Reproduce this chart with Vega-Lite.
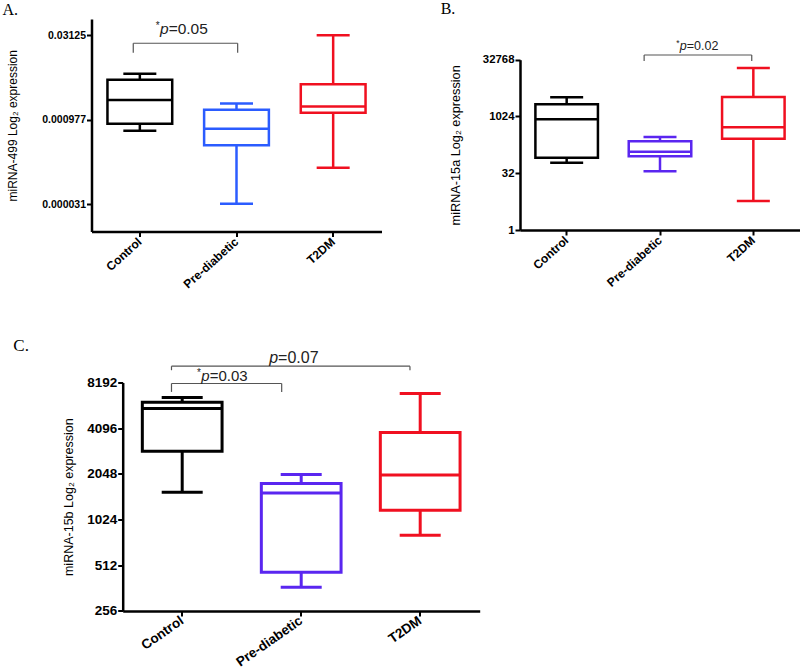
{
  "$schema": "https://vega.github.io/schema/vega-lite/v6.json",
  "background": "white",
  "padding": {"left": 2.5, "top": 0, "right": 0, "bottom": 0},
  "config": {
    "view": {"stroke": null},
    "font": "Liberation Sans",
    "axis": {"domainColor": "black", "domainWidth": 2.5, "tickColor": "black", "tickWidth": 2, "tickSize": 5, "grid": false, "labelColor": "black", "labelFont": "Liberation Sans", "labelFontWeight": "bold", "titleFont": "Liberation Sans", "titleFontWeight": "normal", "titleColor": "black", "labelPadding": 1},
    "title": {"font": "Liberation Serif", "fontWeight": "normal", "color": "black", "anchor": "start", "frame": "group"},
    "tick": {"opacity": 1},
    "bar": {"opacity": 1}
  },
  "datasets": {
    "boxes": [
      {"panel": "A", "group": "Control", "min": 0.0006227, "q1": 0.000829, "median": 0.002193, "q3": 0.005048, "max": 0.00646},
      {"panel": "A", "group": "Pre-diabetic", "min": 0.00003153, "q1": 0.0003431, "median": 0.0006758, "q3": 0.0014719, "max": 0.0019156},
      {"panel": "A", "group": "T2DM", "min": 0.00013733, "q1": 0.0013068, "median": 0.0016936, "q3": 0.004177, "max": 0.03125},
      {"panel": "B", "group": "Control", "min": 60.9, "q1": 82.6, "median": 861.7, "q3": 2152, "max": 3300},
      {"panel": "B", "group": "Pre-diabetic", "min": 36.0, "q1": 90.0, "median": 119.2, "q3": 224.9, "max": 292.4},
      {"panel": "B", "group": "T2DM", "min": 5.87, "q1": 263.6, "median": 528.6, "q3": 3361, "max": 19743},
      {"panel": "C", "group": "Control", "min": 1551, "q1": 2888, "median": 5523, "q3": 6077, "max": 6527},
      {"panel": "C", "group": "Pre-diabetic", "min": 366.8, "q1": 460.5, "median": 1534, "q3": 1769, "max": 2028},
      {"panel": "C", "group": "T2DM", "min": 807.3, "q1": 1180, "median": 2016, "q3": 3835, "max": 6932}
    ],
    "notes": [
      {"panel": "A", "id": "A1", "from": "Control", "to": "Pre-diabetic", "y": 0.02251, "yEnd": 0.015325, "at": "Control", "ty": 0.03258, "rest": "=0.05", "p": "p", "star": "*"},
      {"panel": "B", "id": "B1", "from": "Pre-diabetic", "to": "T2DM", "y": 43660, "yEnd": 30258, "at": "Pre-diabetic", "ty": 58170, "rest": "=0.02", "p": "p", "star": "*"},
      {"panel": "C", "id": "C1", "from": "Control", "to": "Pre-diabetic", "y": 8068, "yEnd": 7103, "at": "Control", "ty": 8393, "rest": "=0.03", "p": "p", "star": "*"},
      {"panel": "C", "id": "C2", "from": "Control", "to": "T2DM", "y": 10492, "yEnd": 9869, "at": "Pre-diabetic", "ty": 11030, "rest": "=0.07", "p": "p", "star": ""}
    ]
  },
  "columns": 1,
  "align": "none",
  "spacing": 46.5,
  "concat": [
    {
      "columns": 2,
      "align": "none",
      "spacing": 58.5,
      "concat": [
        {
          "title": {"text": "A.", "fontSize": 16, "dx": -89, "offset": 1},
          "width": 290, "height": 212.5,
          "layer": [
            {"data": {"name": "boxes"}, "transform": [{"filter": "datum.panel==='A'"}],
             "mark": {"type": "rule", "strokeWidth": 2.5},
             "encoding": {
               "x": {"field": "group", "type": "nominal", "scale": {"domain": ["Control", "Pre-diabetic", "T2DM"], "paddingInner": 0, "paddingOuter": 0}, "axis": {"title": null, "labelAngle": -42, "labelAlign": "right", "labelBaseline": "middle", "labelFontSize": 12, "labelPadding": 3}},
               "y": {"field": "min", "type": "quantitative", "scale": {"type": "log", "base": 2, "domain": [0.000010068, 0.06079], "nice": false}, "axis": {"values": [0.000030517578125, 0.0009765625, 0.03125], "labelExpr": "datum.value < 0.0001 ? '0.000031' : datum.value < 0.01 ? '0.000977' : '0.03125'", "labelFontSize": 10.5, "title": "miRNA-499 Log₂ expression", "titleFontSize": 12, "titlePadding": 22}},
               "y2": {"field": "max"},
               "color": {"condition": [{"test": "datum.group==='Control'", "value": "#000000"}, {"test": "datum.group==='T2DM'", "value": "#f01020"}], "value": "#2b5cff"}
             }},
            {"data": {"name": "boxes"}, "transform": [{"filter": "datum.panel==='A'"}],
             "mark": {"type": "bar", "fill": "white", "strokeWidth": 2.5, "width": {"band": 0.67}},
             "encoding": {
               "x": {"field": "group", "type": "nominal", "scale": {"domain": ["Control", "Pre-diabetic", "T2DM"], "paddingInner": 0, "paddingOuter": 0}, "axis": {"title": null, "labelAngle": -42, "labelAlign": "right", "labelBaseline": "middle", "labelFontSize": 12, "labelPadding": 3}},
               "y": {"field": "q1", "type": "quantitative", "scale": {"type": "log", "base": 2, "domain": [0.000010068, 0.06079], "nice": false}, "axis": {"values": [0.000030517578125, 0.0009765625, 0.03125], "labelExpr": "datum.value < 0.0001 ? '0.000031' : datum.value < 0.01 ? '0.000977' : '0.03125'", "labelFontSize": 10.5, "title": "miRNA-499 Log₂ expression", "titleFontSize": 12, "titlePadding": 22}},
               "y2": {"field": "q3"},
               "stroke": {"condition": [{"test": "datum.group==='Control'", "value": "#000000"}, {"test": "datum.group==='T2DM'", "value": "#f01020"}], "value": "#2b5cff"}
             }},
            {"data": {"name": "boxes"}, "transform": [{"filter": "datum.panel==='A'"}],
             "mark": {"type": "tick", "thickness": 2.5, "size": 65, "opacity": 1},
             "encoding": {
               "x": {"field": "group", "type": "nominal", "scale": {"domain": ["Control", "Pre-diabetic", "T2DM"], "paddingInner": 0, "paddingOuter": 0}, "axis": {"title": null, "labelAngle": -42, "labelAlign": "right", "labelBaseline": "middle", "labelFontSize": 12, "labelPadding": 3}},
               "y": {"field": "median", "type": "quantitative", "scale": {"type": "log", "base": 2, "domain": [0.000010068, 0.06079], "nice": false}, "axis": {"values": [0.000030517578125, 0.0009765625, 0.03125], "labelExpr": "datum.value < 0.0001 ? '0.000031' : datum.value < 0.01 ? '0.000977' : '0.03125'", "labelFontSize": 10.5, "title": "miRNA-499 Log₂ expression", "titleFontSize": 12, "titlePadding": 22}},
               "color": {"condition": [{"test": "datum.group==='Control'", "value": "#000000"}, {"test": "datum.group==='T2DM'", "value": "#f01020"}], "value": "#2b5cff"}
             }},
            {"data": {"name": "boxes"}, "transform": [{"filter": "datum.panel==='A'"}],
             "mark": {"type": "tick", "thickness": 2.5, "size": 33, "opacity": 1},
             "encoding": {
               "x": {"field": "group", "type": "nominal", "scale": {"domain": ["Control", "Pre-diabetic", "T2DM"], "paddingInner": 0, "paddingOuter": 0}, "axis": {"title": null, "labelAngle": -42, "labelAlign": "right", "labelBaseline": "middle", "labelFontSize": 12, "labelPadding": 3}},
               "y": {"field": "min", "type": "quantitative", "scale": {"type": "log", "base": 2, "domain": [0.000010068, 0.06079], "nice": false}, "axis": {"values": [0.000030517578125, 0.0009765625, 0.03125], "labelExpr": "datum.value < 0.0001 ? '0.000031' : datum.value < 0.01 ? '0.000977' : '0.03125'", "labelFontSize": 10.5, "title": "miRNA-499 Log₂ expression", "titleFontSize": 12, "titlePadding": 22}},
               "color": {"condition": [{"test": "datum.group==='Control'", "value": "#000000"}, {"test": "datum.group==='T2DM'", "value": "#f01020"}], "value": "#2b5cff"}
             }},
            {"data": {"name": "boxes"}, "transform": [{"filter": "datum.panel==='A'"}],
             "mark": {"type": "tick", "thickness": 2.5, "size": 33, "opacity": 1},
             "encoding": {
               "x": {"field": "group", "type": "nominal", "scale": {"domain": ["Control", "Pre-diabetic", "T2DM"], "paddingInner": 0, "paddingOuter": 0}, "axis": {"title": null, "labelAngle": -42, "labelAlign": "right", "labelBaseline": "middle", "labelFontSize": 12, "labelPadding": 3}},
               "y": {"field": "max", "type": "quantitative", "scale": {"type": "log", "base": 2, "domain": [0.000010068, 0.06079], "nice": false}, "axis": {"values": [0.000030517578125, 0.0009765625, 0.03125], "labelExpr": "datum.value < 0.0001 ? '0.000031' : datum.value < 0.01 ? '0.000977' : '0.03125'", "labelFontSize": 10.5, "title": "miRNA-499 Log₂ expression", "titleFontSize": 12, "titlePadding": 22}},
               "color": {"condition": [{"test": "datum.group==='Control'", "value": "#000000"}, {"test": "datum.group==='T2DM'", "value": "#f01020"}], "value": "#2b5cff"}
             }},
            {"data": {"name": "notes"}, "transform": [{"filter": "datum.id==='A1'"}],
             "mark": {"type": "rule", "color": "#555555", "strokeWidth": 1.2},
             "encoding": {
               "x": {"field": "from", "type": "nominal", "bandPosition": 0.432, "scale": {"domain": ["Control", "Pre-diabetic", "T2DM"], "paddingInner": 0, "paddingOuter": 0}, "axis": {"title": null, "labelAngle": -42, "labelAlign": "right", "labelBaseline": "middle", "labelFontSize": 12, "labelPadding": 3}},
               "x2": {"field": "to", "bandPosition": 0.512},
               "y": {"field": "y", "type": "quantitative", "scale": {"type": "log", "base": 2, "domain": [0.000010068, 0.06079], "nice": false}, "axis": {"values": [0.000030517578125, 0.0009765625, 0.03125], "labelExpr": "datum.value < 0.0001 ? '0.000031' : datum.value < 0.01 ? '0.000977' : '0.03125'", "labelFontSize": 10.5, "title": "miRNA-499 Log₂ expression", "titleFontSize": 12, "titlePadding": 22}}
             }},
            {"data": {"name": "notes"}, "transform": [{"filter": "datum.id==='A1'"}],
             "mark": {"type": "rule", "color": "#555555", "strokeWidth": 1.2},
             "encoding": {
               "x": {"field": "from", "type": "nominal", "bandPosition": 0.432, "scale": {"domain": ["Control", "Pre-diabetic", "T2DM"], "paddingInner": 0, "paddingOuter": 0}, "axis": {"title": null, "labelAngle": -42, "labelAlign": "right", "labelBaseline": "middle", "labelFontSize": 12, "labelPadding": 3}},
               "y": {"field": "y", "type": "quantitative", "scale": {"type": "log", "base": 2, "domain": [0.000010068, 0.06079], "nice": false}, "axis": {"values": [0.000030517578125, 0.0009765625, 0.03125], "labelExpr": "datum.value < 0.0001 ? '0.000031' : datum.value < 0.01 ? '0.000977' : '0.03125'", "labelFontSize": 10.5, "title": "miRNA-499 Log₂ expression", "titleFontSize": 12, "titlePadding": 22}},
               "y2": {"field": "yEnd"}
             }},
            {"data": {"name": "notes"}, "transform": [{"filter": "datum.id==='A1'"}],
             "mark": {"type": "rule", "color": "#555555", "strokeWidth": 1.2},
             "encoding": {
               "x": {"field": "to", "type": "nominal", "bandPosition": 0.512, "scale": {"domain": ["Control", "Pre-diabetic", "T2DM"], "paddingInner": 0, "paddingOuter": 0}, "axis": {"title": null, "labelAngle": -42, "labelAlign": "right", "labelBaseline": "middle", "labelFontSize": 12, "labelPadding": 3}},
               "y": {"field": "y", "type": "quantitative", "scale": {"type": "log", "base": 2, "domain": [0.000010068, 0.06079], "nice": false}, "axis": {"values": [0.000030517578125, 0.0009765625, 0.03125], "labelExpr": "datum.value < 0.0001 ? '0.000031' : datum.value < 0.01 ? '0.000977' : '0.03125'", "labelFontSize": 10.5, "title": "miRNA-499 Log₂ expression", "titleFontSize": 12, "titlePadding": 22}},
               "y2": {"field": "yEnd"}
             }},
            {"data": {"name": "notes"}, "transform": [{"filter": "datum.id==='A1'"}],
             "mark": {"type": "text", "align": "left", "baseline": "alphabetic", "fontSize": 15.5, "dx": 28.8, "color": "#222222"},
             "encoding": {
               "x": {"field": "at", "type": "nominal", "bandPosition": 0.5, "scale": {"domain": ["Control", "Pre-diabetic", "T2DM"], "paddingInner": 0, "paddingOuter": 0}, "axis": {"title": null, "labelAngle": -42, "labelAlign": "right", "labelBaseline": "middle", "labelFontSize": 12, "labelPadding": 3}},
               "y": {"field": "ty", "type": "quantitative", "scale": {"type": "log", "base": 2, "domain": [0.000010068, 0.06079], "nice": false}, "axis": {"values": [0.000030517578125, 0.0009765625, 0.03125], "labelExpr": "datum.value < 0.0001 ? '0.000031' : datum.value < 0.01 ? '0.000977' : '0.03125'", "labelFontSize": 10.5, "title": "miRNA-499 Log₂ expression", "titleFontSize": 12, "titlePadding": 22}},
               "text": {"field": "rest"}
             }},
            {"data": {"name": "notes"}, "transform": [{"filter": "datum.id==='A1'"}],
             "mark": {"type": "text", "align": "right", "baseline": "alphabetic", "fontSize": 15.5, "fontStyle": "italic", "dx": 28.8, "color": "#222222"},
             "encoding": {
               "x": {"field": "at", "type": "nominal", "bandPosition": 0.5, "scale": {"domain": ["Control", "Pre-diabetic", "T2DM"], "paddingInner": 0, "paddingOuter": 0}, "axis": {"title": null, "labelAngle": -42, "labelAlign": "right", "labelBaseline": "middle", "labelFontSize": 12, "labelPadding": 3}},
               "y": {"field": "ty", "type": "quantitative", "scale": {"type": "log", "base": 2, "domain": [0.000010068, 0.06079], "nice": false}, "axis": {"values": [0.000030517578125, 0.0009765625, 0.03125], "labelExpr": "datum.value < 0.0001 ? '0.000031' : datum.value < 0.01 ? '0.000977' : '0.03125'", "labelFontSize": 10.5, "title": "miRNA-499 Log₂ expression", "titleFontSize": 12, "titlePadding": 22}},
               "text": {"field": "p"}
             }},
            {"data": {"name": "notes"}, "transform": [{"filter": "datum.id==='A1'"}],
             "mark": {"type": "text", "align": "right", "baseline": "alphabetic", "fontSize": 10, "dx": 19.8, "dy": -5, "color": "#222222"},
             "encoding": {
               "x": {"field": "at", "type": "nominal", "bandPosition": 0.5, "scale": {"domain": ["Control", "Pre-diabetic", "T2DM"], "paddingInner": 0, "paddingOuter": 0}, "axis": {"title": null, "labelAngle": -42, "labelAlign": "right", "labelBaseline": "middle", "labelFontSize": 12, "labelPadding": 3}},
               "y": {"field": "ty", "type": "quantitative", "scale": {"type": "log", "base": 2, "domain": [0.000010068, 0.06079], "nice": false}, "axis": {"values": [0.000030517578125, 0.0009765625, 0.03125], "labelExpr": "datum.value < 0.0001 ? '0.000031' : datum.value < 0.01 ? '0.000977' : '0.03125'", "labelFontSize": 10.5, "title": "miRNA-499 Log₂ expression", "titleFontSize": 12, "titlePadding": 22}},
               "text": {"field": "star"}
             }}
          ]
        },
        {
          "title": {"text": "B.", "fontSize": 16, "dx": -79.3, "offset": 2.5},
          "width": 280, "height": 211,
          "layer": [
            {"data": {"name": "boxes"}, "transform": [{"filter": "datum.panel==='B'"}],
             "mark": {"type": "rule", "strokeWidth": 2.5},
             "encoding": {
               "x": {"field": "group", "type": "nominal", "scale": {"domain": ["Control", "Pre-diabetic", "T2DM"], "paddingInner": 0, "paddingOuter": 0}, "axis": {"title": null, "labelAngle": -42, "labelAlign": "right", "labelBaseline": "middle", "labelFontSize": 12, "labelPadding": 3}},
               "y": {"field": "min", "type": "quantitative", "scale": {"type": "log", "base": 2, "domain": [1, 32768], "nice": false, "range": [211, 40.7]}, "axis": {"values": [1, 32, 1024, 32768], "format": "d", "labelFontSize": 11.4, "title": "miRNA-15a Log₂ expression", "titleFontSize": 12.7, "titlePadding": 20}},
               "y2": {"field": "max"},
               "color": {"condition": [{"test": "datum.group==='Control'", "value": "#000000"}, {"test": "datum.group==='T2DM'", "value": "#f01020"}], "value": "#5a26f0"}
             }},
            {"data": {"name": "boxes"}, "transform": [{"filter": "datum.panel==='B'"}],
             "mark": {"type": "bar", "fill": "white", "strokeWidth": 2.5, "width": {"band": 0.67}},
             "encoding": {
               "x": {"field": "group", "type": "nominal", "scale": {"domain": ["Control", "Pre-diabetic", "T2DM"], "paddingInner": 0, "paddingOuter": 0}, "axis": {"title": null, "labelAngle": -42, "labelAlign": "right", "labelBaseline": "middle", "labelFontSize": 12, "labelPadding": 3}},
               "y": {"field": "q1", "type": "quantitative", "scale": {"type": "log", "base": 2, "domain": [1, 32768], "nice": false, "range": [211, 40.7]}, "axis": {"values": [1, 32, 1024, 32768], "format": "d", "labelFontSize": 11.4, "title": "miRNA-15a Log₂ expression", "titleFontSize": 12.7, "titlePadding": 20}},
               "y2": {"field": "q3"},
               "stroke": {"condition": [{"test": "datum.group==='Control'", "value": "#000000"}, {"test": "datum.group==='T2DM'", "value": "#f01020"}], "value": "#5a26f0"}
             }},
            {"data": {"name": "boxes"}, "transform": [{"filter": "datum.panel==='B'"}],
             "mark": {"type": "tick", "thickness": 2.5, "size": 62.5, "opacity": 1},
             "encoding": {
               "x": {"field": "group", "type": "nominal", "scale": {"domain": ["Control", "Pre-diabetic", "T2DM"], "paddingInner": 0, "paddingOuter": 0}, "axis": {"title": null, "labelAngle": -42, "labelAlign": "right", "labelBaseline": "middle", "labelFontSize": 12, "labelPadding": 3}},
               "y": {"field": "median", "type": "quantitative", "scale": {"type": "log", "base": 2, "domain": [1, 32768], "nice": false, "range": [211, 40.7]}, "axis": {"values": [1, 32, 1024, 32768], "format": "d", "labelFontSize": 11.4, "title": "miRNA-15a Log₂ expression", "titleFontSize": 12.7, "titlePadding": 20}},
               "color": {"condition": [{"test": "datum.group==='Control'", "value": "#000000"}, {"test": "datum.group==='T2DM'", "value": "#f01020"}], "value": "#5a26f0"}
             }},
            {"data": {"name": "boxes"}, "transform": [{"filter": "datum.panel==='B'"}],
             "mark": {"type": "tick", "thickness": 2.5, "size": 33, "opacity": 1},
             "encoding": {
               "x": {"field": "group", "type": "nominal", "scale": {"domain": ["Control", "Pre-diabetic", "T2DM"], "paddingInner": 0, "paddingOuter": 0}, "axis": {"title": null, "labelAngle": -42, "labelAlign": "right", "labelBaseline": "middle", "labelFontSize": 12, "labelPadding": 3}},
               "y": {"field": "min", "type": "quantitative", "scale": {"type": "log", "base": 2, "domain": [1, 32768], "nice": false, "range": [211, 40.7]}, "axis": {"values": [1, 32, 1024, 32768], "format": "d", "labelFontSize": 11.4, "title": "miRNA-15a Log₂ expression", "titleFontSize": 12.7, "titlePadding": 20}},
               "color": {"condition": [{"test": "datum.group==='Control'", "value": "#000000"}, {"test": "datum.group==='T2DM'", "value": "#f01020"}], "value": "#5a26f0"}
             }},
            {"data": {"name": "boxes"}, "transform": [{"filter": "datum.panel==='B'"}],
             "mark": {"type": "tick", "thickness": 2.5, "size": 33, "opacity": 1},
             "encoding": {
               "x": {"field": "group", "type": "nominal", "scale": {"domain": ["Control", "Pre-diabetic", "T2DM"], "paddingInner": 0, "paddingOuter": 0}, "axis": {"title": null, "labelAngle": -42, "labelAlign": "right", "labelBaseline": "middle", "labelFontSize": 12, "labelPadding": 3}},
               "y": {"field": "max", "type": "quantitative", "scale": {"type": "log", "base": 2, "domain": [1, 32768], "nice": false, "range": [211, 40.7]}, "axis": {"values": [1, 32, 1024, 32768], "format": "d", "labelFontSize": 11.4, "title": "miRNA-15a Log₂ expression", "titleFontSize": 12.7, "titlePadding": 20}},
               "color": {"condition": [{"test": "datum.group==='Control'", "value": "#000000"}, {"test": "datum.group==='T2DM'", "value": "#f01020"}], "value": "#5a26f0"}
             }},
            {"data": {"name": "notes"}, "transform": [{"filter": "datum.id==='B1'"}],
             "mark": {"type": "rule", "color": "#555555", "strokeWidth": 1.2},
             "encoding": {
               "x": {"field": "from", "type": "nominal", "bandPosition": 0.33, "scale": {"domain": ["Control", "Pre-diabetic", "T2DM"], "paddingInner": 0, "paddingOuter": 0}, "axis": {"title": null, "labelAngle": -42, "labelAlign": "right", "labelBaseline": "middle", "labelFontSize": 12, "labelPadding": 3}},
               "x2": {"field": "to", "bandPosition": 0.483},
               "y": {"field": "y", "type": "quantitative", "scale": {"type": "log", "base": 2, "domain": [1, 32768], "nice": false, "range": [211, 40.7]}, "axis": {"values": [1, 32, 1024, 32768], "format": "d", "labelFontSize": 11.4, "title": "miRNA-15a Log₂ expression", "titleFontSize": 12.7, "titlePadding": 20}}
             }},
            {"data": {"name": "notes"}, "transform": [{"filter": "datum.id==='B1'"}],
             "mark": {"type": "rule", "color": "#555555", "strokeWidth": 1.2},
             "encoding": {
               "x": {"field": "from", "type": "nominal", "bandPosition": 0.33, "scale": {"domain": ["Control", "Pre-diabetic", "T2DM"], "paddingInner": 0, "paddingOuter": 0}, "axis": {"title": null, "labelAngle": -42, "labelAlign": "right", "labelBaseline": "middle", "labelFontSize": 12, "labelPadding": 3}},
               "y": {"field": "y", "type": "quantitative", "scale": {"type": "log", "base": 2, "domain": [1, 32768], "nice": false, "range": [211, 40.7]}, "axis": {"values": [1, 32, 1024, 32768], "format": "d", "labelFontSize": 11.4, "title": "miRNA-15a Log₂ expression", "titleFontSize": 12.7, "titlePadding": 20}},
               "y2": {"field": "yEnd"}
             }},
            {"data": {"name": "notes"}, "transform": [{"filter": "datum.id==='B1'"}],
             "mark": {"type": "rule", "color": "#555555", "strokeWidth": 1.2},
             "encoding": {
               "x": {"field": "to", "type": "nominal", "bandPosition": 0.483, "scale": {"domain": ["Control", "Pre-diabetic", "T2DM"], "paddingInner": 0, "paddingOuter": 0}, "axis": {"title": null, "labelAngle": -42, "labelAlign": "right", "labelBaseline": "middle", "labelFontSize": 12, "labelPadding": 3}},
               "y": {"field": "y", "type": "quantitative", "scale": {"type": "log", "base": 2, "domain": [1, 32768], "nice": false, "range": [211, 40.7]}, "axis": {"values": [1, 32, 1024, 32768], "format": "d", "labelFontSize": 11.4, "title": "miRNA-15a Log₂ expression", "titleFontSize": 12.7, "titlePadding": 20}},
               "y2": {"field": "yEnd"}
             }},
            {"data": {"name": "notes"}, "transform": [{"filter": "datum.id==='B1'"}],
             "mark": {"type": "text", "align": "left", "baseline": "alphabetic", "fontSize": 12.5, "dx": 26.8, "color": "#222222"},
             "encoding": {
               "x": {"field": "at", "type": "nominal", "bandPosition": 0.5, "scale": {"domain": ["Control", "Pre-diabetic", "T2DM"], "paddingInner": 0, "paddingOuter": 0}, "axis": {"title": null, "labelAngle": -42, "labelAlign": "right", "labelBaseline": "middle", "labelFontSize": 12, "labelPadding": 3}},
               "y": {"field": "ty", "type": "quantitative", "scale": {"type": "log", "base": 2, "domain": [1, 32768], "nice": false, "range": [211, 40.7]}, "axis": {"values": [1, 32, 1024, 32768], "format": "d", "labelFontSize": 11.4, "title": "miRNA-15a Log₂ expression", "titleFontSize": 12.7, "titlePadding": 20}},
               "text": {"field": "rest"}
             }},
            {"data": {"name": "notes"}, "transform": [{"filter": "datum.id==='B1'"}],
             "mark": {"type": "text", "align": "right", "baseline": "alphabetic", "fontSize": 12.5, "fontStyle": "italic", "dx": 26.8, "color": "#222222"},
             "encoding": {
               "x": {"field": "at", "type": "nominal", "bandPosition": 0.5, "scale": {"domain": ["Control", "Pre-diabetic", "T2DM"], "paddingInner": 0, "paddingOuter": 0}, "axis": {"title": null, "labelAngle": -42, "labelAlign": "right", "labelBaseline": "middle", "labelFontSize": 12, "labelPadding": 3}},
               "y": {"field": "ty", "type": "quantitative", "scale": {"type": "log", "base": 2, "domain": [1, 32768], "nice": false, "range": [211, 40.7]}, "axis": {"values": [1, 32, 1024, 32768], "format": "d", "labelFontSize": 11.4, "title": "miRNA-15a Log₂ expression", "titleFontSize": 12.7, "titlePadding": 20}},
               "text": {"field": "p"}
             }},
            {"data": {"name": "notes"}, "transform": [{"filter": "datum.id==='B1'"}],
             "mark": {"type": "text", "align": "right", "baseline": "alphabetic", "fontSize": 8.5, "dx": 19.6, "dy": -4, "color": "#222222"},
             "encoding": {
               "x": {"field": "at", "type": "nominal", "bandPosition": 0.5, "scale": {"domain": ["Control", "Pre-diabetic", "T2DM"], "paddingInner": 0, "paddingOuter": 0}, "axis": {"title": null, "labelAngle": -42, "labelAlign": "right", "labelBaseline": "middle", "labelFontSize": 12, "labelPadding": 3}},
               "y": {"field": "ty", "type": "quantitative", "scale": {"type": "log", "base": 2, "domain": [1, 32768], "nice": false, "range": [211, 40.7]}, "axis": {"values": [1, 32, 1024, 32768], "format": "d", "labelFontSize": 11.4, "title": "miRNA-15a Log₂ expression", "titleFontSize": 12.7, "titlePadding": 20}},
               "text": {"field": "star"}
             }}
          ]
        }
      ]
    },
    {
      "title": {"text": "C.", "fontSize": 17, "dx": -78.2, "offset": -5.3},
      "width": 388.2, "height": 228.4,
      "layer": [
        {"data": {"name": "boxes"}, "transform": [{"filter": "datum.panel==='C'"}],
         "mark": {"type": "rule", "strokeWidth": 3},
         "encoding": {
           "x": {"field": "group", "type": "nominal", "scale": {"domain": ["Control", "Pre-diabetic", "T2DM"], "paddingInner": 0, "paddingOuter": 0, "range": [31.2, 388.2]}, "axis": {"title": null, "labelAngle": -35, "labelAlign": "right", "labelBaseline": "middle", "labelFontSize": 13.5, "labelPadding": 3}},
           "y": {"field": "min", "type": "quantitative", "scale": {"type": "log", "base": 2, "domain": [256, 8192], "nice": false}, "axis": {"offset": -31.2, "values": [256, 512, 1024, 2048, 4096, 8192], "format": "d", "labelFontSize": 13.5, "title": "miRNA-15b Log₂ expression", "titleFontSize": 12.5, "titlePadding": 11}},
           "y2": {"field": "max"},
           "color": {"condition": [{"test": "datum.group==='Control'", "value": "#000000"}, {"test": "datum.group==='T2DM'", "value": "#f01020"}], "value": "#5a26f0"}
         }},
        {"data": {"name": "boxes"}, "transform": [{"filter": "datum.panel==='C'"}],
         "mark": {"type": "bar", "fill": "white", "strokeWidth": 3, "width": {"band": 0.67}},
         "encoding": {
           "x": {"field": "group", "type": "nominal", "scale": {"domain": ["Control", "Pre-diabetic", "T2DM"], "paddingInner": 0, "paddingOuter": 0, "range": [31.2, 388.2]}, "axis": {"title": null, "labelAngle": -35, "labelAlign": "right", "labelBaseline": "middle", "labelFontSize": 13.5, "labelPadding": 3}},
           "y": {"field": "q1", "type": "quantitative", "scale": {"type": "log", "base": 2, "domain": [256, 8192], "nice": false}, "axis": {"offset": -31.2, "values": [256, 512, 1024, 2048, 4096, 8192], "format": "d", "labelFontSize": 13.5, "title": "miRNA-15b Log₂ expression", "titleFontSize": 12.5, "titlePadding": 11}},
           "y2": {"field": "q3"},
           "stroke": {"condition": [{"test": "datum.group==='Control'", "value": "#000000"}, {"test": "datum.group==='T2DM'", "value": "#f01020"}], "value": "#5a26f0"}
         }},
        {"data": {"name": "boxes"}, "transform": [{"filter": "datum.panel==='C'"}],
         "mark": {"type": "tick", "thickness": 3, "size": 80, "opacity": 1},
         "encoding": {
           "x": {"field": "group", "type": "nominal", "scale": {"domain": ["Control", "Pre-diabetic", "T2DM"], "paddingInner": 0, "paddingOuter": 0, "range": [31.2, 388.2]}, "axis": {"title": null, "labelAngle": -35, "labelAlign": "right", "labelBaseline": "middle", "labelFontSize": 13.5, "labelPadding": 3}},
           "y": {"field": "median", "type": "quantitative", "scale": {"type": "log", "base": 2, "domain": [256, 8192], "nice": false}, "axis": {"offset": -31.2, "values": [256, 512, 1024, 2048, 4096, 8192], "format": "d", "labelFontSize": 13.5, "title": "miRNA-15b Log₂ expression", "titleFontSize": 12.5, "titlePadding": 11}},
           "color": {"condition": [{"test": "datum.group==='Control'", "value": "#000000"}, {"test": "datum.group==='T2DM'", "value": "#f01020"}], "value": "#5a26f0"}
         }},
        {"data": {"name": "boxes"}, "transform": [{"filter": "datum.panel==='C'"}],
         "mark": {"type": "tick", "thickness": 3, "size": 41, "opacity": 1},
         "encoding": {
           "x": {"field": "group", "type": "nominal", "scale": {"domain": ["Control", "Pre-diabetic", "T2DM"], "paddingInner": 0, "paddingOuter": 0, "range": [31.2, 388.2]}, "axis": {"title": null, "labelAngle": -35, "labelAlign": "right", "labelBaseline": "middle", "labelFontSize": 13.5, "labelPadding": 3}},
           "y": {"field": "min", "type": "quantitative", "scale": {"type": "log", "base": 2, "domain": [256, 8192], "nice": false}, "axis": {"offset": -31.2, "values": [256, 512, 1024, 2048, 4096, 8192], "format": "d", "labelFontSize": 13.5, "title": "miRNA-15b Log₂ expression", "titleFontSize": 12.5, "titlePadding": 11}},
           "color": {"condition": [{"test": "datum.group==='Control'", "value": "#000000"}, {"test": "datum.group==='T2DM'", "value": "#f01020"}], "value": "#5a26f0"}
         }},
        {"data": {"name": "boxes"}, "transform": [{"filter": "datum.panel==='C'"}],
         "mark": {"type": "tick", "thickness": 3, "size": 41, "opacity": 1},
         "encoding": {
           "x": {"field": "group", "type": "nominal", "scale": {"domain": ["Control", "Pre-diabetic", "T2DM"], "paddingInner": 0, "paddingOuter": 0, "range": [31.2, 388.2]}, "axis": {"title": null, "labelAngle": -35, "labelAlign": "right", "labelBaseline": "middle", "labelFontSize": 13.5, "labelPadding": 3}},
           "y": {"field": "max", "type": "quantitative", "scale": {"type": "log", "base": 2, "domain": [256, 8192], "nice": false}, "axis": {"offset": -31.2, "values": [256, 512, 1024, 2048, 4096, 8192], "format": "d", "labelFontSize": 13.5, "title": "miRNA-15b Log₂ expression", "titleFontSize": 12.5, "titlePadding": 11}},
           "color": {"condition": [{"test": "datum.group==='Control'", "value": "#000000"}, {"test": "datum.group==='T2DM'", "value": "#f01020"}], "value": "#5a26f0"}
         }},
        {"data": {"name": "notes"}, "transform": [{"filter": "datum.panel==='C'"}],
         "mark": {"type": "rule", "color": "#555555", "strokeWidth": 1.2},
         "encoding": {
           "x": {"field": "from", "type": "nominal", "bandPosition": 0.41, "scale": {"domain": ["Control", "Pre-diabetic", "T2DM"], "paddingInner": 0, "paddingOuter": 0, "range": [31.2, 388.2]}, "axis": {"title": null, "labelAngle": -35, "labelAlign": "right", "labelBaseline": "middle", "labelFontSize": 13.5, "labelPadding": 3}},
           "y": {"field": "y", "type": "quantitative", "scale": {"type": "log", "base": 2, "domain": [256, 8192], "nice": false}, "axis": {"offset": -31.2, "values": [256, 512, 1024, 2048, 4096, 8192], "format": "d", "labelFontSize": 13.5, "title": "miRNA-15b Log₂ expression", "titleFontSize": 12.5, "titlePadding": 11}},
           "y2": {"field": "yEnd"}
         }},
        {"data": {"name": "notes"}, "transform": [{"filter": "datum.id==='C1'"}],
         "mark": {"type": "rule", "color": "#555555", "strokeWidth": 1.2},
         "encoding": {
           "x": {"field": "from", "type": "nominal", "bandPosition": 0.41, "scale": {"domain": ["Control", "Pre-diabetic", "T2DM"], "paddingInner": 0, "paddingOuter": 0, "range": [31.2, 388.2]}, "axis": {"title": null, "labelAngle": -35, "labelAlign": "right", "labelBaseline": "middle", "labelFontSize": 13.5, "labelPadding": 3}},
           "x2": {"field": "to", "bandPosition": 0.336},
           "y": {"field": "y", "type": "quantitative", "scale": {"type": "log", "base": 2, "domain": [256, 8192], "nice": false}, "axis": {"offset": -31.2, "values": [256, 512, 1024, 2048, 4096, 8192], "format": "d", "labelFontSize": 13.5, "title": "miRNA-15b Log₂ expression", "titleFontSize": 12.5, "titlePadding": 11}}
         }},
        {"data": {"name": "notes"}, "transform": [{"filter": "datum.id==='C1'"}],
         "mark": {"type": "rule", "color": "#555555", "strokeWidth": 1.2},
         "encoding": {
           "x": {"field": "to", "type": "nominal", "bandPosition": 0.336, "scale": {"domain": ["Control", "Pre-diabetic", "T2DM"], "paddingInner": 0, "paddingOuter": 0, "range": [31.2, 388.2]}, "axis": {"title": null, "labelAngle": -35, "labelAlign": "right", "labelBaseline": "middle", "labelFontSize": 13.5, "labelPadding": 3}},
           "y": {"field": "y", "type": "quantitative", "scale": {"type": "log", "base": 2, "domain": [256, 8192], "nice": false}, "axis": {"offset": -31.2, "values": [256, 512, 1024, 2048, 4096, 8192], "format": "d", "labelFontSize": 13.5, "title": "miRNA-15b Log₂ expression", "titleFontSize": 12.5, "titlePadding": 11}},
           "y2": {"field": "yEnd"}
         }},
        {"data": {"name": "notes"}, "transform": [{"filter": "datum.id==='C2'"}],
         "mark": {"type": "rule", "color": "#555555", "strokeWidth": 1.2},
         "encoding": {
           "x": {"field": "from", "type": "nominal", "bandPosition": 0.41, "scale": {"domain": ["Control", "Pre-diabetic", "T2DM"], "paddingInner": 0, "paddingOuter": 0, "range": [31.2, 388.2]}, "axis": {"title": null, "labelAngle": -35, "labelAlign": "right", "labelBaseline": "middle", "labelFontSize": 13.5, "labelPadding": 3}},
           "x2": {"field": "to", "bandPosition": 0.414},
           "y": {"field": "y", "type": "quantitative", "scale": {"type": "log", "base": 2, "domain": [256, 8192], "nice": false}, "axis": {"offset": -31.2, "values": [256, 512, 1024, 2048, 4096, 8192], "format": "d", "labelFontSize": 13.5, "title": "miRNA-15b Log₂ expression", "titleFontSize": 12.5, "titlePadding": 11}}
         }},
        {"data": {"name": "notes"}, "transform": [{"filter": "datum.id==='C2'"}],
         "mark": {"type": "rule", "color": "#555555", "strokeWidth": 1.2},
         "encoding": {
           "x": {"field": "to", "type": "nominal", "bandPosition": 0.414, "scale": {"domain": ["Control", "Pre-diabetic", "T2DM"], "paddingInner": 0, "paddingOuter": 0, "range": [31.2, 388.2]}, "axis": {"title": null, "labelAngle": -35, "labelAlign": "right", "labelBaseline": "middle", "labelFontSize": 13.5, "labelPadding": 3}},
           "y": {"field": "y", "type": "quantitative", "scale": {"type": "log", "base": 2, "domain": [256, 8192], "nice": false}, "axis": {"offset": -31.2, "values": [256, 512, 1024, 2048, 4096, 8192], "format": "d", "labelFontSize": 13.5, "title": "miRNA-15b Log₂ expression", "titleFontSize": 12.5, "titlePadding": 11}},
           "y2": {"field": "yEnd"}
         }},
        {"data": {"name": "notes"}, "transform": [{"filter": "datum.id==='C1'"}],
         "mark": {"type": "text", "align": "left", "baseline": "alphabetic", "fontSize": 15, "dx": 27.5, "color": "#222222"},
         "encoding": {
           "x": {"field": "at", "type": "nominal", "bandPosition": 0.5, "scale": {"domain": ["Control", "Pre-diabetic", "T2DM"], "paddingInner": 0, "paddingOuter": 0, "range": [31.2, 388.2]}, "axis": {"title": null, "labelAngle": -35, "labelAlign": "right", "labelBaseline": "middle", "labelFontSize": 13.5, "labelPadding": 3}},
           "y": {"field": "ty", "type": "quantitative", "scale": {"type": "log", "base": 2, "domain": [256, 8192], "nice": false}, "axis": {"offset": -31.2, "values": [256, 512, 1024, 2048, 4096, 8192], "format": "d", "labelFontSize": 13.5, "title": "miRNA-15b Log₂ expression", "titleFontSize": 12.5, "titlePadding": 11}},
           "text": {"field": "rest"}
         }},
        {"data": {"name": "notes"}, "transform": [{"filter": "datum.id==='C1'"}],
         "mark": {"type": "text", "align": "right", "baseline": "alphabetic", "fontSize": 15, "fontStyle": "italic", "dx": 27.5, "color": "#222222"},
         "encoding": {
           "x": {"field": "at", "type": "nominal", "bandPosition": 0.5, "scale": {"domain": ["Control", "Pre-diabetic", "T2DM"], "paddingInner": 0, "paddingOuter": 0, "range": [31.2, 388.2]}, "axis": {"title": null, "labelAngle": -35, "labelAlign": "right", "labelBaseline": "middle", "labelFontSize": 13.5, "labelPadding": 3}},
           "y": {"field": "ty", "type": "quantitative", "scale": {"type": "log", "base": 2, "domain": [256, 8192], "nice": false}, "axis": {"offset": -31.2, "values": [256, 512, 1024, 2048, 4096, 8192], "format": "d", "labelFontSize": 13.5, "title": "miRNA-15b Log₂ expression", "titleFontSize": 12.5, "titlePadding": 11}},
           "text": {"field": "p"}
         }},
        {"data": {"name": "notes"}, "transform": [{"filter": "datum.id==='C1'"}],
         "mark": {"type": "text", "align": "right", "baseline": "alphabetic", "fontSize": 10, "dx": 18.7, "dy": -5, "color": "#222222"},
         "encoding": {
           "x": {"field": "at", "type": "nominal", "bandPosition": 0.5, "scale": {"domain": ["Control", "Pre-diabetic", "T2DM"], "paddingInner": 0, "paddingOuter": 0, "range": [31.2, 388.2]}, "axis": {"title": null, "labelAngle": -35, "labelAlign": "right", "labelBaseline": "middle", "labelFontSize": 13.5, "labelPadding": 3}},
           "y": {"field": "ty", "type": "quantitative", "scale": {"type": "log", "base": 2, "domain": [256, 8192], "nice": false}, "axis": {"offset": -31.2, "values": [256, 512, 1024, 2048, 4096, 8192], "format": "d", "labelFontSize": 13.5, "title": "miRNA-15b Log₂ expression", "titleFontSize": 12.5, "titlePadding": 11}},
           "text": {"field": "star"}
         }},
        {"data": {"name": "notes"}, "transform": [{"filter": "datum.id==='C2'"}],
         "mark": {"type": "text", "align": "left", "baseline": "alphabetic", "fontSize": 16, "dx": -23.1, "color": "#222222"},
         "encoding": {
           "x": {"field": "at", "type": "nominal", "bandPosition": 0.5, "scale": {"domain": ["Control", "Pre-diabetic", "T2DM"], "paddingInner": 0, "paddingOuter": 0, "range": [31.2, 388.2]}, "axis": {"title": null, "labelAngle": -35, "labelAlign": "right", "labelBaseline": "middle", "labelFontSize": 13.5, "labelPadding": 3}},
           "y": {"field": "ty", "type": "quantitative", "scale": {"type": "log", "base": 2, "domain": [256, 8192], "nice": false}, "axis": {"offset": -31.2, "values": [256, 512, 1024, 2048, 4096, 8192], "format": "d", "labelFontSize": 13.5, "title": "miRNA-15b Log₂ expression", "titleFontSize": 12.5, "titlePadding": 11}},
           "text": {"field": "rest"}
         }},
        {"data": {"name": "notes"}, "transform": [{"filter": "datum.id==='C2'"}],
         "mark": {"type": "text", "align": "right", "baseline": "alphabetic", "fontSize": 16, "fontStyle": "italic", "dx": -23.1, "color": "#222222"},
         "encoding": {
           "x": {"field": "at", "type": "nominal", "bandPosition": 0.5, "scale": {"domain": ["Control", "Pre-diabetic", "T2DM"], "paddingInner": 0, "paddingOuter": 0, "range": [31.2, 388.2]}, "axis": {"title": null, "labelAngle": -35, "labelAlign": "right", "labelBaseline": "middle", "labelFontSize": 13.5, "labelPadding": 3}},
           "y": {"field": "ty", "type": "quantitative", "scale": {"type": "log", "base": 2, "domain": [256, 8192], "nice": false}, "axis": {"offset": -31.2, "values": [256, 512, 1024, 2048, 4096, 8192], "format": "d", "labelFontSize": 13.5, "title": "miRNA-15b Log₂ expression", "titleFontSize": 12.5, "titlePadding": 11}},
           "text": {"field": "p"}
         }}
      ]
    }
  ]
}
